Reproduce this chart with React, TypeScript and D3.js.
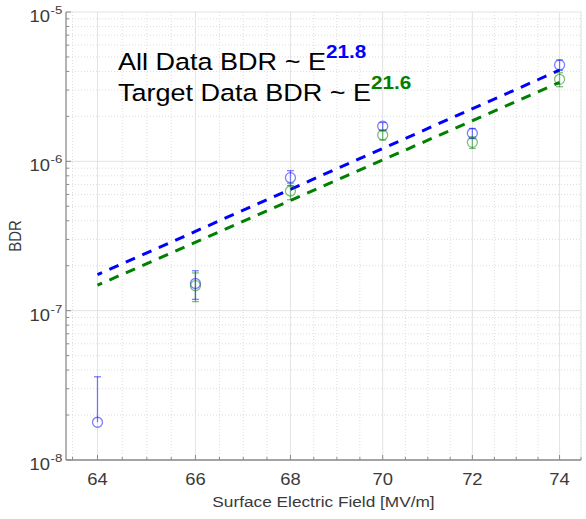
import React from 'react';
import * as d3 from 'd3';

// surface field points [MV/m]
const fieldE = [64, 66, 68, 70, 72, 74];

// all data breakdown rate and its error
const allBDR = [1.79e-8, 1.52e-7, 7.77e-7, 1.72e-6, 1.54e-6, 4.42e-6];
const allErr = [1.82e-8, 0.33e-7, 0.89e-7, 0.10e-6, 0.12e-6, 0.35e-6];

// target data (no point at 64)
const targetBDR = [null, 1.47e-7, 6.33e-7, 1.5e-6, 1.34e-6, 3.54e-6];
const targetErr = [null, 0.32e-7, 0.8e-7, 0.11e-6, 0.12e-6, 0.38e-6];

// power-law fits, ends of the line
const fitE = [64, 74];
const fitAll = [1.74e-7, 4.08e-6];
const fitTarget = [1.48e-7, 3.38e-6];

const xTicks = [64, 66, 68, 70, 72, 74];
const yDecades = [1e-8, 1e-7, 1e-6, 1e-5];
const yExp = ['-8', '-7', '-6', '-5'];

const W = 586;
const H = 519;
const left = 66;
const right = 581;
const top = 12;
const bottom = 460;

// the original picture is a bit wider than tall, text is stretched
const SX = 1.15;

const font = '"Liberation Sans", Arial, Helvetica, sans-serif';
const BLUE = '#0000ff';
const GREEN = '#008000';
const BLUE_M = 'rgba(0,0,255,0.5)';
const GREEN_M = 'rgba(0,128,0,0.5)';
const TXT = '#3a3a3a';

const App = () => {
  const x = d3.scaleLog().domain([63.37, 74.5]).range([left, right]);
  const y = d3.scaleLog().domain([1e-8, 1e-5]).range([bottom, top]);

  const xMinor = d3.range(63.5, 74.51, 0.5).filter(v => !xTicks.includes(v));
  const yMinor = y.ticks().filter(v => !yDecades.some(d => Math.abs(d - v) / d < 1e-6));

  const line = d3.line<[number, number]>().x(d => x(d[0])).y(d => y(d[1]));

  const series = [
    { vals: allBDR, errs: allErr, color: BLUE_M },
    { vals: targetBDR, errs: targetErr, color: GREEN_M },
  ];

  const at = (px: number, py: number, rot = '') => `translate(${px},${py}) scale(${SX},1)${rot}`;

  return (
    <svg width={W} height={H} style={{ position: 'absolute', left: 0, top: 0, background: '#fff' }} fontFamily={font}>
      <rect width={W} height={H} fill="#fff" />

      {/* minor grid */}
      {xMinor.map(v => (
        <line key={'xm' + v} x1={x(v)} x2={x(v)} y1={top} y2={bottom} stroke="#d4d4d4" strokeWidth={0.8} strokeDasharray="1,2" />
      ))}
      {yMinor.map(v => (
        <line key={'ym' + v} x1={left} x2={right} y1={y(v)} y2={y(v)} stroke="#d4d4d4" strokeWidth={0.8} strokeDasharray="1,2" />
      ))}
      {/* major grid */}
      {xTicks.map(v => (
        <line key={'xg' + v} x1={x(v)} x2={x(v)} y1={top} y2={bottom} stroke="#e3e3e3" strokeWidth={1} />
      ))}
      {yDecades.map(v => (
        <line key={'yg' + v} x1={left} x2={right} y1={y(v)} y2={y(v)} stroke="#e3e3e3" strokeWidth={1} />
      ))}
      <line x1={right} x2={right} y1={top} y2={bottom} stroke="#e3e3e3" strokeWidth={1} />

      {/* axes */}
      <line x1={left} x2={right} y1={bottom} y2={bottom} stroke="#8a8a8a" strokeWidth={1.3} />
      <line x1={left} x2={left} y1={top} y2={bottom} stroke="#8a8a8a" strokeWidth={1.3} />
      {xTicks.map(v => (
        <line key={'xt' + v} x1={x(v)} x2={x(v)} y1={bottom} y2={bottom - 5} stroke="#8a8a8a" strokeWidth={1} />
      ))}
      {xMinor.map(v => (
        <line key={'xmt' + v} x1={x(v)} x2={x(v)} y1={bottom} y2={bottom - 3} stroke="#8a8a8a" strokeWidth={1} />
      ))}
      {yDecades.map(v => (
        <line key={'yt' + v} x1={left} x2={left + 5} y1={y(v)} y2={y(v)} stroke="#8a8a8a" strokeWidth={1} />
      ))}
      {yMinor.map(v => (
        <line key={'ymt' + v} x1={left} x2={left + 3} y1={y(v)} y2={y(v)} stroke="#8a8a8a" strokeWidth={1} />
      ))}

      {/* tick labels */}
      {xTicks.map(v => (
        <text key={'xl' + v} transform={at(x(v), bottom + 25)} textAnchor="middle" fontSize={16} fill={TXT}>{v}</text>
      ))}
      {yDecades.map((v, i) => (
        <g key={'yl' + v} transform={at(50, y(v) + 10)}>
          <text x={0} y={0} textAnchor="end" fontSize={16} fill={TXT}>10</text>
          <text x={0.5} y={-8} fontSize={11.5} fill={TXT}>{yExp[i]}</text>
        </g>
      ))}

      {/* axis labels */}
      <text transform={at((left + right) / 2, 507)} textAnchor="middle" fontSize={15} fill={TXT}>Surface Electric Field [MV/m]</text>
      <text transform={at(21, (top + bottom) / 2, ' rotate(-90)')} textAnchor="middle" fontSize={15} fill={TXT}>BDR</text>

      {/* fit lines */}
      <path d={line(fitE.map((e, i) => [e, fitAll[i]]) as [number, number][]) || ''} fill="none" stroke={BLUE} strokeWidth={3} strokeDasharray="10,8" strokeDashoffset={5} />
      <path d={line(fitE.map((e, i) => [e, fitTarget[i]]) as [number, number][]) || ''} fill="none" stroke={GREEN} strokeWidth={3} strokeDasharray="10,8" strokeDashoffset={5} />

      {/* error bars and markers */}
      {series.map((s, si) => (
        <g key={'s' + si}>
          {fieldE.map((e, i) => {
            const v = s.vals[i];
            const err = s.errs[i];
            if (v == null || err == null) return null;
            const cx = x(e);
            const cy = y(v);
            const hi = y(v + err);
            const lo = v - err > 0 ? y(v - err) : cy;
            return (
              <g key={'p' + i}>
                <line x1={cx} x2={cx} y1={hi} y2={lo} stroke={s.color} strokeWidth={1.3} />
                <line x1={cx - 3.5} x2={cx + 3.5} y1={hi} y2={hi} stroke={s.color} strokeWidth={1.3} />
                {v - err > 0 && <line x1={cx - 3.5} x2={cx + 3.5} y1={lo} y2={lo} stroke={s.color} strokeWidth={1.3} />}
                <circle cx={cx} cy={cy} r={5} fill="none" stroke={s.color} strokeWidth={1.3} />
              </g>
            );
          })}
        </g>
      ))}

      {/* annotation */}
      <text transform={at(118, 70)} fontSize={23.5} fill="#000">
        All Data BDR ~ E
        <tspan dy={-12} fontSize={18} fontWeight="bold" fill={BLUE}>21.8</tspan>
      </text>
      <text transform={at(118, 101)} fontSize={23.5} fill="#000">
        Target Data BDR ~ E
        <tspan dy={-12} fontSize={18} fontWeight="bold" fill={GREEN}>21.6</tspan>
      </text>
    </svg>
  );
};

export default App;
